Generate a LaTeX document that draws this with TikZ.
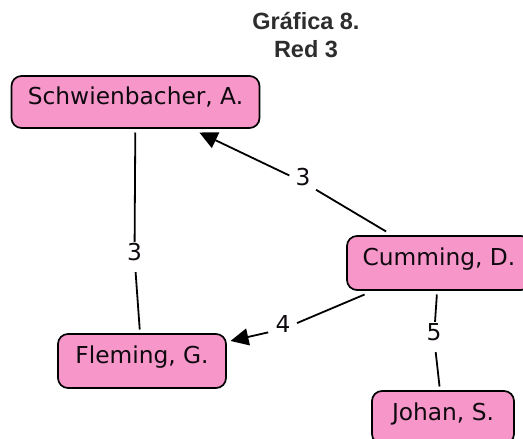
\documentclass[tikz,border=0pt]{standalone}
\usepackage{fontspec}
\setmainfont{DejaVu Sans}
\newfontfamily\titlefont{Liberation Sans}
\usetikzlibrary{arrows.meta}
\definecolor{boxpink}{RGB}{246,150,201}
\definecolor{titlegray}{RGB}{45,45,45}
\definecolor{txt}{RGB}{15,10,15}
\begin{document}
\begin{tikzpicture}[x=1pt,y=-1pt,
  person/.style={draw=black, line width=1.7pt, fill=boxpink, rounded corners=10pt,
    inner sep=0pt, outer sep=4.5pt, font=\fontsize{23.3}{27}\selectfont, text=txt,
    text height=0.75em, text depth=0.2em},
  weight/.style={circle, inner sep=0pt, minimum size=30pt, font=\fontsize{23.3}{27}\selectfont,
    text=txt, text height=0.73em, text depth=0pt},
  link/.style={line width=1.8pt, black},
  arrowlink/.style={link, -{Triangle[length=18pt,width=17pt]}},
  titletext/.style={font=\titlefont\bfseries\fontsize{23.5}{27}\selectfont, text=titlegray, anchor=base, inner sep=0pt}
]
\useasboundingbox (0,0) rectangle (523,439);
\node[titletext] (t1) at (306,29.5) {Gráfica 8.};
\node[titletext] (t2) at (306,57) {Red 3};

\node[person, minimum width=248pt, minimum height=52pt] (S) at (135.5,102) {Schwienbacher, A.};
\node[person, minimum width=184pt, minimum height=54pt] (C) at (439,263) {Cumming, D.};
\node[person, minimum width=168pt, minimum height=54pt] (F) at (142,361) {Fleming, G.};
\node[person, minimum width=142pt, minimum height=53pt] (J) at (443,417.5) {Johan, S.};

\node[weight] (l1) at (134.5,257) {3};
\node[weight] (l2) at (303,182) {3};
\node[weight] (l3) at (283,329) {4};
\node[weight] (l4) at (434,337) {5};

\draw[link] (S) -- (l1);
\draw[link] (l1) -- (F);
\draw[link] (C) -- (l2);
\draw[arrowlink] (l2) -- (S);
\draw[link] (C) -- (l3);
\draw[arrowlink] (l3) -- (F);
\draw[link] (C) -- (l4);
\draw[link] (l4) -- (J);
\end{tikzpicture}
\end{document}
